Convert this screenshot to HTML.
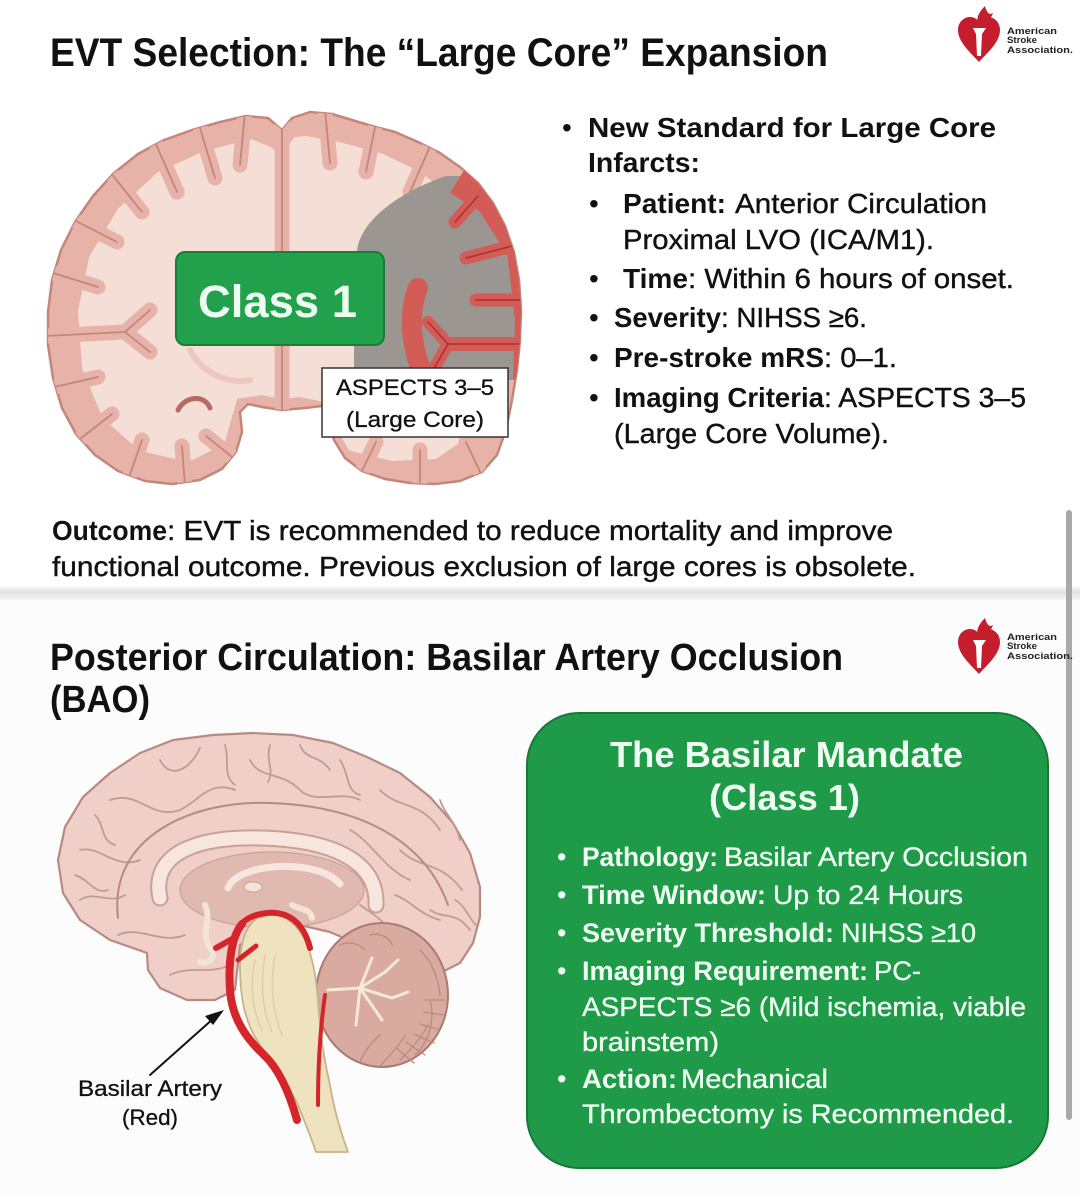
<!DOCTYPE html>
<html>
<head>
<meta charset="utf-8">
<style>
html,body{margin:0;padding:0;background:#fdfdfd;}
svg{display:block;}
</style>
</head>
<body>
<svg width="1080" height="1197" viewBox="0 0 1080 1197" xmlns="http://www.w3.org/2000/svg" font-family="'Liberation Sans', Arial, sans-serif">
<defs>
  <linearGradient id="sep" x1="0" y1="0" x2="0" y2="1">
    <stop offset="0" stop-color="#fbfbfb"/>
    <stop offset="0.45" stop-color="#e2e2e2"/>
    <stop offset="1" stop-color="#f6f6f6"/>
  </linearGradient>
  <clipPath id="corclip">
    <polygon points="282,130 292,118 310,112 332,114 352,120 372,126 395,132 418,142 440,153 460,167 478,183 493,203 505,226 514,252 519,280 521,310 520,340 517,370 512,400 506,430 497,455 482,472 460,481 435,484 410,483 385,479 362,471 345,458 334,440 328,420 322,406 305,408 282,410 262,407 248,404 240,412 242,432 236,452 222,469 200,480 172,484 145,481 118,471 95,455 76,434 62,408 53,378 48,345 48,312 52,280 61,250 75,222 93,196 114,173 138,154 164,140 192,130 220,122 246,116 268,118"/>
  </clipPath>
</defs>

<!-- backgrounds -->
<rect x="0" y="0" width="1080" height="1197" fill="#fdfdfd"/>
<rect x="0" y="0" width="1080" height="588" fill="#ffffff"/>
<rect x="0" y="586" width="1080" height="14" fill="url(#sep)"/>
<rect x="0" y="600" width="1080" height="597" fill="#fcfcfc"/>

<!-- scrollbar -->
<rect x="1066" y="510" width="6" height="610" rx="3" fill="#a9a9a9"/>

<!-- ===== TOP LOGO ===== -->
<g>
  <path d="M985 6 C978 13 975 20 979 27 C984 25 991 20 993 13 C990 15 987 14 985 6 Z" fill="#c41e2e"/>
  <path d="M979 62 C970 52 958 42 958 30 C958 22 964 17 970 17 C975 17 978 20 979 23 C980 20 983 17 988 17 C994 17 1000 22 1000 30 C1000 42 988 52 979 62 Z" fill="#c41e2e"/>
  <path d="M973 28 L986 28 L982 34 L981 56 L977 56 L976 34 Z" fill="#ffffff"/>
  <text x="1007" y="34" font-size="9" font-weight="bold" fill="#222" textLength="50" lengthAdjust="spacingAndGlyphs">American</text>
  <text x="1007" y="43" font-size="9" font-weight="bold" fill="#222" textLength="30" lengthAdjust="spacingAndGlyphs">Stroke</text>
  <text x="1007" y="53" font-size="9" font-weight="bold" fill="#222" textLength="66" lengthAdjust="spacingAndGlyphs">Association.</text>
</g>

<!-- ===== TOP TITLE ===== -->
<text x="50" y="66" font-size="40" font-weight="bold" fill="#111" textLength="778" lengthAdjust="spacingAndGlyphs">EVT Selection: The “Large Core” Expansion</text>

<!-- ===== CORONAL BRAIN ===== -->
<g>
  <polygon points="282,130 292,118 310,112 332,114 352,120 372,126 395,132 418,142 440,153 460,167 478,183 493,203 505,226 514,252 519,280 521,310 520,340 517,370 512,400 506,430 497,455 482,472 460,481 435,484 410,483 385,479 362,471 345,458 334,440 328,420 322,406 305,408 282,410 262,407 248,404 240,412 242,432 236,452 222,469 200,480 172,484 145,481 118,471 95,455 76,434 62,408 53,378 48,345 48,312 52,280 61,250 75,222 93,196 114,173 138,154 164,140 192,130 220,122 246,116 268,118" fill="#e7b2a7" stroke="#c4867b" stroke-width="2.5" stroke-linejoin="round"/>
  <polygon points="282,160 296,140 306,139 343,146 380,156 418,174 451,200 474,237 486,283 487,335 480,387 467,434 435,456 392,458 351,448 338,425 330,400 300,394 282,396 262,392 235,396 228,420 222,442 188,459 141,448 105,416 85,368 81,311 92,258 120,211 159,175 205,154 251,142 270,150" fill="#f5ded5" stroke="#f5ded5" stroke-width="6" stroke-linejoin="round"/>
  <g clip-path="url(#corclip)" stroke-linecap="round" fill="none">
    <g stroke="#e7b2a7" stroke-width="15">
      <path d="M245 112 L240 165"/><path d="M200 128 L215 178"/><path d="M155 142 L177 192"/>
      <path d="M110 172 L142 212"/><path d="M70 218 L117 242"/><path d="M50 272 L98 287"/>
      <path d="M45 336 L125 332 L150 310"/><path d="M125 332 L150 352"/><path d="M50 388 L98 377"/>
      <path d="M76 442 L112 414"/><path d="M128 480 L142 440"/><path d="M185 486 L182 446"/>
      <path d="M236 460 L206 436"/>
      <path d="M325 110 L330 163"/><path d="M376 122 L366 172"/><path d="M432 142 L410 192"/>
      <path d="M282 120 L282 258"/><path d="M282 340 L282 415"/>
      <path d="M360 475 L376 442"/><path d="M420 490 L420 450"/><path d="M482 476 L466 442"/>
    </g>
    <g stroke="#c4867b" stroke-width="1.8">
      <path d="M245 112 L240 165"/><path d="M200 128 L215 178"/><path d="M155 142 L177 192"/>
      <path d="M110 172 L142 212"/><path d="M70 218 L117 242"/><path d="M50 272 L98 287"/>
      <path d="M45 336 L125 332 L150 310"/><path d="M125 332 L150 352"/><path d="M50 388 L98 377"/>
      <path d="M76 442 L112 414"/><path d="M128 480 L142 440"/><path d="M185 486 L182 446"/>
      <path d="M236 460 L206 436"/>
      <path d="M325 110 L330 163"/><path d="M376 122 L366 172"/><path d="M432 142 L410 192"/>
      <path d="M282 120 L282 258"/><path d="M282 340 L282 415"/>
      <path d="M360 475 L376 442"/><path d="M420 490 L420 450"/><path d="M482 476 L466 442"/>
    </g>
    <path d="M178 410 C186 395 205 395 210 408" stroke="#b86a62" stroke-width="5"/>
    <path d="M190 350 C200 370 225 385 250 380" stroke="#ecc7bd" stroke-width="6"/>
    <!-- infarct region -->
    <path d="M446 176 C405 190 366 215 358 245 C354 262 354 300 354 330 L354 380 L540 380 L540 176 Z" fill="#9c9692" stroke="none"/>
    <g stroke="#d35c56">
      <path d="M458 180 L490 200 L522 250 L530 320 L528 380" stroke-width="30" stroke-linecap="butt"/>
      <path d="M478 196 L455 222" stroke-width="13"/>
      <path d="M512 246 L466 258" stroke-width="13"/>
      <path d="M522 300 L476 300" stroke-width="13"/>
      <path d="M522 344 L448 344" stroke-width="14"/>
      <path d="M448 344 L428 322" stroke-width="12"/>
      <path d="M448 344 L432 372" stroke-width="12"/>
      <path d="M418 288 C408 312 410 345 425 380" stroke-width="20"/>
    </g>
    <g stroke="#a9322f" stroke-width="1.6">
      <path d="M478 196 L455 222"/><path d="M512 246 L466 258"/><path d="M522 300 L476 300"/>
      <path d="M522 344 L448 344"/><path d="M448 344 L428 322"/><path d="M448 344 L432 372"/>
    </g>
  </g>
  <!-- Class 1 box -->
  <rect x="176" y="252" width="208" height="93" rx="9" fill="#22a04c" stroke="#167e38" stroke-width="2"/>
  <text x="198" y="317" font-size="45" font-weight="bold" fill="#ecfff1" textLength="159" lengthAdjust="spacingAndGlyphs">Class 1</text>
  <!-- ASPECTS box -->
  <rect x="322" y="368" width="186" height="69" fill="#ffffff" stroke="#333" stroke-width="1.5"/>
  <text x="336" y="395" font-size="22" fill="#111" stroke="#111" stroke-width="0.3" textLength="158" lengthAdjust="spacingAndGlyphs">ASPECTS 3–5</text>
  <text x="346" y="427" font-size="22" fill="#111" stroke="#111" stroke-width="0.3" textLength="138" lengthAdjust="spacingAndGlyphs">(Large Core)</text>
</g>

<!-- ===== TOP BULLETS ===== -->
<g fill="#111" font-size="28">
  <text x="562" y="137">•</text>
  <text x="588" y="137" font-weight="bold" textLength="408" lengthAdjust="spacingAndGlyphs">New Standard for Large Core</text>
  <text x="588" y="172" font-weight="bold" textLength="112" lengthAdjust="spacingAndGlyphs">Infarcts:</text>

  <text x="589" y="213">•</text>
  <text x="623" y="213" font-weight="bold" textLength="103" lengthAdjust="spacingAndGlyphs">Patient:</text>
  <g stroke="#111" stroke-width="0.4">
  <text x="735" y="213" textLength="252" lengthAdjust="spacingAndGlyphs">Anterior Circulation</text>
  <text x="623" y="249" textLength="311" lengthAdjust="spacingAndGlyphs">Proximal LVO (ICA/M1).</text>
  <text x="688" y="288" textLength="326" lengthAdjust="spacingAndGlyphs">: Within 6 hours of onset.</text>
  <text x="721" y="327" textLength="146" lengthAdjust="spacingAndGlyphs">: NIHSS ≥6.</text>
  <text x="824" y="367" textLength="73" lengthAdjust="spacingAndGlyphs">: 0–1.</text>
  <text x="824" y="407" textLength="202" lengthAdjust="spacingAndGlyphs">: ASPECTS 3–5</text>
  <text x="614" y="443" textLength="275" lengthAdjust="spacingAndGlyphs">(Large Core Volume).</text>
  </g>

  <text x="589" y="288">•</text>
  <text x="623" y="288" font-weight="bold" textLength="65" lengthAdjust="spacingAndGlyphs">Time</text>

  <text x="589" y="327">•</text>
  <text x="614" y="327" font-weight="bold" textLength="107" lengthAdjust="spacingAndGlyphs">Severity</text>

  <text x="589" y="367">•</text>
  <text x="614" y="367" font-weight="bold" textLength="210" lengthAdjust="spacingAndGlyphs">Pre-stroke mRS</text>

  <text x="589" y="407">•</text>
  <text x="614" y="407" font-weight="bold" textLength="210" lengthAdjust="spacingAndGlyphs">Imaging Criteria</text>
</g>

<!-- ===== OUTCOME ===== -->
<g fill="#111" font-size="28">
  <text x="52" y="540" font-weight="bold" textLength="115" lengthAdjust="spacingAndGlyphs">Outcome</text>
  <g stroke="#111" stroke-width="0.4">
  <text x="167" y="540" textLength="726" lengthAdjust="spacingAndGlyphs">: EVT is recommended to reduce mortality and improve</text>
  <text x="52" y="576" textLength="864" lengthAdjust="spacingAndGlyphs">functional outcome. Previous exclusion of large cores is obsolete.</text>
  </g>
</g>

<!-- ===== BOTTOM LOGO ===== -->
<g transform="translate(0,612)">
  <path d="M985 6 C978 13 975 20 979 27 C984 25 991 20 993 13 C990 15 987 14 985 6 Z" fill="#c41e2e"/>
  <path d="M979 62 C970 52 958 42 958 30 C958 22 964 17 970 17 C975 17 978 20 979 23 C980 20 983 17 988 17 C994 17 1000 22 1000 30 C1000 42 988 52 979 62 Z" fill="#c41e2e"/>
  <path d="M973 28 L986 28 L982 34 L981 56 L977 56 L976 34 Z" fill="#ffffff"/>
  <text x="1007" y="28" font-size="9" font-weight="bold" fill="#222" textLength="50" lengthAdjust="spacingAndGlyphs">American</text>
  <text x="1007" y="37" font-size="9" font-weight="bold" fill="#222" textLength="30" lengthAdjust="spacingAndGlyphs">Stroke</text>
  <text x="1007" y="47" font-size="9" font-weight="bold" fill="#222" textLength="66" lengthAdjust="spacingAndGlyphs">Association.</text>
</g>

<!-- ===== BOTTOM TITLE ===== -->
<text x="50" y="670" font-size="38" font-weight="bold" fill="#111" textLength="793" lengthAdjust="spacingAndGlyphs">Posterior Circulation: Basilar Artery Occlusion</text>
<text x="50" y="712" font-size="38" font-weight="bold" fill="#111" textLength="100" lengthAdjust="spacingAndGlyphs">(BAO)</text>

<!-- ===== SAGITTAL BRAIN ===== -->
<g stroke-linejoin="round" stroke-linecap="round">
  <polygon points="147,953 110,940 80,920 63,893 58,860 65,827 83,797 110,773 140,753 173,740 213,735 253,733 293,735 333,743 367,757 400,773 430,797 453,823 470,853 480,887 480,917 473,943 460,963 440,973 400,962 360,945 330,932 300,925 260,930 240,945 235,990 215,1000 187,1000 160,988 148,970" fill="#efcfc7" stroke="#b88a81" stroke-width="2.2"/>
  <g fill="none" stroke="#c39a91" stroke-width="1.8">
    <path d="M110 800 C140 790 150 820 180 810 C200 800 210 780 235 790"/>
    <path d="M250 760 C260 780 280 770 300 790 C315 805 340 790 360 800"/>
    <path d="M380 790 C400 810 420 800 440 830"/>
    <path d="M80 850 C100 845 115 870 140 860"/>
    <path d="M400 850 C420 870 440 860 462 890"/>
    <path d="M350 830 C370 840 385 870 410 880"/>
    <path d="M160 760 C170 780 190 770 200 748"/>
    <path d="M300 745 C305 760 320 755 330 770"/>
    <path d="M430 910 C445 920 455 910 470 930"/>
    <path d="M80 900 C95 890 110 905 125 895"/>
    <path d="M118 935 C140 925 160 945 185 935"/>
    <path d="M170 975 C190 965 210 975 230 965"/>
    <path d="M225 745 C230 760 222 775 235 785"/>
    <path d="M270 745 C265 760 275 770 268 782"/>
    <path d="M340 760 C350 775 345 790 360 795"/>
    <path d="M95 815 C105 825 100 840 115 845"/>
    <path d="M75 875 C90 880 95 895 108 890"/>
    <path d="M440 800 C445 815 455 820 460 840"/>
    <path d="M455 900 C465 905 470 920 476 925"/>
    <path d="M395 895 C410 900 420 915 440 920"/>
    <path d="M360 905 C375 915 390 925 400 945"/>
  </g>
  <path d="M118 918 C108 835 195 800 270 803 C360 806 425 840 448 905" fill="none" stroke="#b88a81" stroke-width="2"/>
  <ellipse cx="272" cy="890" rx="92" ry="38" fill="#e0bab0" stroke="#c9a096" stroke-width="1.2"/>
  <path d="M160 898 C150 852 200 836 262 838 C330 840 378 860 376 905" fill="none" stroke="#c9a096" stroke-width="17"/>
  <path d="M160 898 C150 852 200 836 262 838 C330 840 378 860 376 905" fill="none" stroke="#f6e6dd" stroke-width="13"/>
  <path d="M228 888 C238 862 318 858 340 884" fill="none" stroke="#f6e6dd" stroke-width="7"/>
  <ellipse cx="253" cy="887" rx="9" ry="5" fill="#f5e4db" stroke="#c9a096" stroke-width="1"/>
  <path d="M205 905 C212 920 200 935 210 948 C218 958 208 965 200 962" fill="none" stroke="#f4e4d6" stroke-width="6"/>
  <path d="M292 905 C300 910 310 908 312 918" fill="none" stroke="#f4e4d6" stroke-width="6"/>
  <ellipse cx="382" cy="995" rx="66" ry="72" fill="#d8aaa0" stroke="#a87b71" stroke-width="2"/>
  <g stroke="#b88a80" stroke-width="1.3" fill="none">
    <path d="M420 950 C430 960 438 975 440 995"/>
    <path d="M430 1000 C435 1020 430 1040 415 1055"/>
    <path d="M400 1060 C410 1050 420 1040 428 1025"/>
    <path d="M380 1066 C390 1055 400 1045 405 1035"/>
    <path d="M360 1062 C365 1050 372 1042 380 1035"/>
    <path d="M445 1000 L425 1000"/><path d="M444 1015 L424 1012"/><path d="M440 1030 L420 1024"/>
    <path d="M434 1043 L414 1034"/><path d="M425 1055 L406 1042"/><path d="M414 1063 L396 1048"/>
    <path d="M340 945 C350 940 360 945 365 950"/><path d="M370 935 C380 932 390 938 392 945"/>
  </g>
  <g stroke="#f5ead9" stroke-width="3" fill="none">
    <path d="M328 990 L360 988 L385 972"/>
    <path d="M360 988 L392 998"/>
    <path d="M360 988 L382 1020"/>
    <path d="M360 988 L356 1025"/>
    <path d="M360 988 L372 958"/>
    <path d="M385 972 L398 960"/><path d="M392 998 L408 992"/>
  </g>
  <path d="M258 918 C245 925 240 945 240 965 C240 995 244 1020 258 1042 C272 1062 290 1085 300 1110 C306 1125 312 1140 316 1152 L348 1152 C340 1130 334 1110 330 1085 C324 1060 320 1035 318 1000 C316 975 312 955 305 940 C298 925 285 915 272 914 Z" fill="#efe3bf" stroke="#c8b28a" stroke-width="1.8"/>
  <g stroke="#ddd0a6" stroke-width="1.5" fill="none">
    <path d="M255 960 C250 985 252 1010 262 1030"/>
    <path d="M265 955 C260 985 262 1010 272 1032"/>
    <path d="M275 955 C270 985 272 1010 282 1035"/>
  </g>
  <g stroke="#d4262a" fill="none" stroke-linecap="round">
    <path d="M242 924 C232 936 228 960 230 990 C232 1020 248 1040 264 1055 C280 1070 290 1095 297 1120" stroke-width="8"/>
    <path d="M240 926 C248 914 270 910 285 915 C298 920 306 932 310 948" stroke-width="6"/>
    <path d="M216 948 L234 938" stroke-width="6"/>
    <path d="M238 960 L256 946" stroke-width="5"/>
    <path d="M325 995 C320 1030 318 1070 318 1105" stroke-width="4"/>
  </g>
  <line x1="150" y1="1075" x2="214" y2="1018" stroke="#111" stroke-width="2"/>
  <polygon points="224,1010 205,1016 213,1025" fill="#111"/>
  <text x="78" y="1096" font-size="22" fill="#111" stroke="#111" stroke-width="0.3" textLength="144" lengthAdjust="spacingAndGlyphs">Basilar Artery</text>
  <text x="122" y="1125" font-size="22" fill="#111" stroke="#111" stroke-width="0.3" textLength="56" lengthAdjust="spacingAndGlyphs">(Red)</text>
</g>

<!-- ===== GREEN BOX ===== -->
<rect x="527" y="713" width="521" height="455" rx="52" fill="#1f9a48" stroke="#167a37" stroke-width="2"/>
<g fill="#effff2">
  <text x="610" y="767" font-size="36" font-weight="bold" textLength="353" lengthAdjust="spacingAndGlyphs">The Basilar Mandate</text>
  <text x="709" y="810" font-size="36" font-weight="bold" textLength="151" lengthAdjust="spacingAndGlyphs">(Class 1)</text>
  <g font-size="27">
    <text x="557" y="866">•</text>
    <text x="582" y="866" font-weight="bold" textLength="136" lengthAdjust="spacingAndGlyphs">Pathology:</text>
    <text x="557" y="904">•</text>
    <text x="582" y="904" font-weight="bold" textLength="184" lengthAdjust="spacingAndGlyphs">Time Window:</text>
    <text x="557" y="942">•</text>
    <text x="582" y="942" font-weight="bold" textLength="252" lengthAdjust="spacingAndGlyphs">Severity Threshold:</text>
    <text x="557" y="980">•</text>
    <text x="582" y="980" font-weight="bold" textLength="286" lengthAdjust="spacingAndGlyphs">Imaging Requirement:</text>
    <text x="557" y="1088">•</text>
    <text x="582" y="1088" font-weight="bold" textLength="95" lengthAdjust="spacingAndGlyphs">Action:</text>
    <g stroke="#effff2" stroke-width="0.35">
      <text x="724" y="866" textLength="304" lengthAdjust="spacingAndGlyphs">Basilar Artery Occlusion</text>
      <text x="773" y="904" textLength="190" lengthAdjust="spacingAndGlyphs">Up to 24 Hours</text>
      <text x="841" y="942" textLength="135" lengthAdjust="spacingAndGlyphs">NIHSS ≥10</text>
      <text x="874" y="980" textLength="47" lengthAdjust="spacingAndGlyphs">PC-</text>
      <text x="582" y="1016" textLength="444" lengthAdjust="spacingAndGlyphs">ASPECTS ≥6 (Mild ischemia, viable</text>
      <text x="582" y="1051" textLength="137" lengthAdjust="spacingAndGlyphs">brainstem)</text>
      <text x="681" y="1088" textLength="147" lengthAdjust="spacingAndGlyphs">Mechanical</text>
      <text x="582" y="1123" textLength="432" lengthAdjust="spacingAndGlyphs">Thrombectomy is Recommended.</text>
    </g>
  </g>
</g>
</svg>
</body>
</html>
